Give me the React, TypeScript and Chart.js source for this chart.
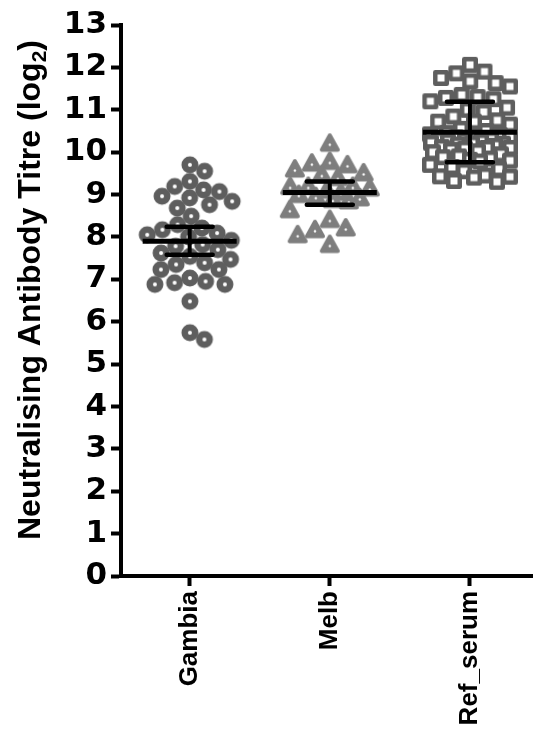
import React, { useEffect, useRef } from 'react';
import { Chart, registerables } from 'chart.js';

Chart.register(...registerables);

const categories = ['Gambia', 'Melb', 'Ref_serum'];
const yMin = 0;
const yMax = 13;

const gambiaValues = [
  9.55, 9.7, 9.31, 9.19, 9.11, 8.96, 8.84, 8.68, 8.76, 8.92, 9.07, 8.49, 8.29,
  8.17, 8.0, 8.09, 8.21, 8.05, 7.92, 7.78, 7.82, 7.7, 7.54, 7.39, 7.35, 7.47,
  7.62, 7.23, 7.23, 6.92, 6.95, 6.88, 7.03, 6.88, 6.48, 5.58, 5.74,
];
const melbValues = [
  10.21, 9.78, 9.7, 9.74, 9.51, 9.47, 9.6, 9.4, 9.19, 9.15, 9.19, 9.19, 9.1,
  9.05, 9.0, 8.95, 8.92, 8.88, 8.85, 8.64, 8.41, 8.21, 8.17, 8.05, 7.82,
];
const refSerumValues = [
  12.06, 11.86, 11.75, 11.63, 11.67, 11.9, 11.55, 11.35, 11.3, 11.28, 11.25,
  11.2, 11.05, 11.0, 10.95, 10.84, 10.75, 10.72, 10.72, 10.65, 10.55, 10.5,
  10.45, 10.42, 10.4, 10.38, 10.35, 10.35, 10.3, 10.3, 10.28, 10.25, 10.25,
  10.22, 10.2, 10.2, 10.18, 10.15, 10.12, 10.1, 10.1, 10.08, 10.05, 10.02,
  10.0, 9.95, 9.9, 9.88, 9.85, 9.82, 9.8, 9.78, 9.7, 9.65, 9.6, 9.55, 9.45,
  9.43, 9.42, 9.4, 9.32, 9.3,
];
const groupValues = [gambiaValues, melbValues, refSerumValues];
const means = [7.9, 9.05, 10.47];
const errLow = [7.58, 8.76, 9.76];
const errHigh = [8.24, 9.31, 11.19];

const DARK = '#5e5e5e';
const LIGHT = '#7e7e7e';
const FONT = '"Liberation Sans", Arial, Helvetica, sans-serif';
const TICK_FONT = '"DejaVu Sans", "Liberation Sans", Arial, sans-serif';

function makeCircle() {
  const c = document.createElement('canvas');
  c.width = 20;
  c.height = 20;
  const g = c.getContext('2d')!;
  g.beginPath();
  g.arc(10, 10, 5.25, 0, Math.PI * 2);
  g.fillStyle = '#ffffff';
  g.fill();
  g.lineWidth = 6.5;
  g.strokeStyle = DARK;
  g.stroke();
  return c;
}

function makeTriangle() {
  const c = document.createElement('canvas');
  c.width = 22;
  c.height = 22;
  const g = c.getContext('2d')!;
  g.beginPath();
  g.moveTo(11, 3);
  g.lineTo(3, 17.5);
  g.lineTo(19, 17.5);
  g.closePath();
  g.lineJoin = 'round';
  g.lineWidth = 4;
  g.fillStyle = LIGHT;
  g.strokeStyle = LIGHT;
  g.fill();
  g.stroke();
  g.beginPath();
  g.arc(11, 12.5, 1.2, 0, Math.PI * 2);
  g.fillStyle = '#ffffff';
  g.fill();
  return c;
}

function makeSquare() {
  const c = document.createElement('canvas');
  c.width = 18;
  c.height = 18;
  const g = c.getContext('2d')!;
  g.lineJoin = 'round';
  g.lineWidth = 4.5;
  g.fillStyle = '#ffffff';
  g.strokeStyle = DARK;
  g.beginPath();
  g.rect(3.25, 3.25, 11.5, 11.5);
  g.fill();
  g.stroke();
  return c;
}

// beeswarm layout in pixel space -> returns x offsets in pixels
function swarm(ys: number[], d: number, maxW: number): number[] {
  const order = ys.map((y, i) => i).sort((a, b) => ys[a] - ys[b]);
  const placed: { x: number; y: number }[] = [];
  const out = new Array(ys.length).fill(0);
  let flip = 1;
  for (const i of order) {
    const y = ys[i];
    const near = placed.filter((p) => Math.abs(p.y - y) < d);
    const cands = [0];
    for (const p of near) {
      const h = Math.sqrt(d * d - (p.y - y) * (p.y - y));
      cands.push(p.x - h - 0.01, p.x + h + 0.01);
    }
    const ok = cands.filter(
      (x) =>
        Math.abs(x) <= maxW &&
        near.every((p) => (p.x - x) ** 2 + (p.y - y) ** 2 >= d * d - 0.1)
    );
    let best: number;
    if (ok.length) {
      ok.sort((a, b) => Math.abs(a) - Math.abs(b) || (a - b) * flip);
      best = ok[0];
      flip = -flip;
    } else {
      best = 0;
      let bestD = -1;
      for (let x = -maxW; x <= maxW; x += 1) {
        let m = Infinity;
        for (const p of near) m = Math.min(m, (p.x - x) ** 2 + (p.y - y) ** 2);
        if (m > bestD) {
          bestD = m;
          best = x;
        }
      }
    }
    placed.push({ x: best, y });
    out[i] = best;
  }
  const lo = Math.min(...out);
  const hi = Math.max(...out);
  const shift = (lo + hi) / 2;
  return out.map((x) => x - shift);
}

const swarmParams = [
  { d: 16, maxW: 44 },
  { d: 18, maxW: 40 },
  { d: 16, maxW: 40 },
];

const meanPlugin = {
  id: 'meanBars',
  afterDatasetsDraw(chart: any) {
    const { ctx, scales } = chart;
    const xs = scales.x;
    const ys = scales.y;
    ctx.save();
    ctx.strokeStyle = '#000';
    categories.forEach((_, i) => {
      const cx = xs.getPixelForValue(i);
      const ym = ys.getPixelForValue(means[i]);
      const yl = ys.getPixelForValue(errLow[i]);
      const yh = ys.getPixelForValue(errHigh[i]);
      ctx.lineCap = 'butt';
      ctx.lineWidth = 4;
      ctx.beginPath();
      ctx.moveTo(cx, yh);
      ctx.lineTo(cx, yl);
      ctx.stroke();
      ctx.lineCap = 'round';
      ctx.lineWidth = 4.5;
      ctx.beginPath();
      ctx.moveTo(cx - 23, yh);
      ctx.lineTo(cx + 23, yh);
      ctx.moveTo(cx - 23, yl);
      ctx.lineTo(cx + 23, yl);
      ctx.stroke();
      ctx.lineCap = 'butt';
      ctx.lineWidth = 5;
      ctx.beginPath();
      ctx.moveTo(cx - 47, ym);
      ctx.lineTo(cx + 47, ym);
      ctx.stroke();
    });
    ctx.restore();
  },
};

const titlePlugin = {
  id: 'yTitle',
  afterDraw(chart: any) {
    const { ctx } = chart;
    const main = 'Neutralising Antibody Titre (log';
    const sub = '2';
    const end = ')';
    ctx.save();
    ctx.fillStyle = '#000';
    ctx.textBaseline = 'alphabetic';
    ctx.textAlign = 'left';
    const big = `bold 32px ${FONT}`;
    const small = `bold 21px ${FONT}`;
    ctx.font = big;
    const w1 = ctx.measureText(main).width;
    const w3 = ctx.measureText(end).width;
    ctx.font = small;
    const w2 = ctx.measureText(sub).width;
    const total = w1 + w2 + w3;
    ctx.translate(40, 290);
    ctx.rotate(-Math.PI / 2);
    let x = -total / 2;
    ctx.font = big;
    ctx.fillText(main, x, 0);
    x += w1;
    ctx.font = small;
    ctx.fillText(sub, x, 6);
    x += w2;
    ctx.font = big;
    ctx.fillText(end, x, 0);
    ctx.restore();
  },
};

export default function App() {
  const ref = useRef<HTMLCanvasElement>(null);
  useEffect(() => {
    const markers = [makeCircle(), makeTriangle(), makeSquare()];
    const chart = new Chart(ref.current!, {
      type: 'scatter',
      data: {
        datasets: groupValues.map((vals, i) => ({
          label: categories[i],
          data: vals.map((v) => ({ x: i, y: v })),
          pointStyle: markers[i] as any,
          pointRadius: 8,
          clip: false as any,
        })),
      },
      options: {
        animation: false,
        responsive: false,
        events: [],
        layout: { autoPadding: false, padding: { top: 25, left: 0, right: 0, bottom: 0 } },
        plugins: {
          legend: { display: false },
          tooltip: { enabled: false },
        },
        scales: {
          x: {
            type: 'linear',
            min: -0.49,
            max: 2.45,
            afterBuildTicks: (s: any) => {
              s.ticks = categories.map((_, i) => ({ value: i }));
            },
            afterFit: (s: any) => {
              s.height = 155;
              s.paddingLeft = 0;
              s.paddingRight = 0;
            },
            ticks: {
              autoSkip: false,
              minRotation: 90,
              maxRotation: 90,
              padding: 5,
              color: '#000',
              font: { family: FONT, size: 26, weight: 'bold' },
              callback: (v: any) => categories[v] ?? '',
            },
            grid: {
              drawOnChartArea: false,
              drawTicks: true,
              tickLength: 10,
              tickWidth: 4,
              tickColor: '#000',
            },
            border: { display: true, width: 4, color: '#000' },
          },
          y: {
            type: 'linear',
            min: yMin,
            max: yMax,
            afterFit: (s: any) => {
              s.width = 121;
            },
            ticks: {
              stepSize: 1,
              autoSkip: false,
              padding: 4,
              color: '#000',
              font: { family: TICK_FONT, size: 31, weight: 'bold' },
            },
            grid: {
              drawOnChartArea: false,
              drawTicks: true,
              tickLength: 10,
              tickWidth: 4,
              tickColor: '#000',
            },
            border: { display: true, width: 4, color: '#000' },
          },
        },
      },
      plugins: [meanPlugin, titlePlugin],
    });

    const xs: any = chart.scales.x;
    const ysc: any = chart.scales.y;
    const pxPerX = xs.getPixelForValue(1) - xs.getPixelForValue(0);
    groupValues.forEach((vals, i) => {
      const py = vals.map((v) => ysc.getPixelForValue(v));
      const offs = swarm(py, swarmParams[i].d, swarmParams[i].maxW);
      chart.data.datasets[i].data = vals.map((v, k) => ({
        x: i + offs[k] / pxPerX,
        y: v,
      })) as any;
    });
    chart.update('none');

    return () => chart.destroy();
  }, []);

  return (
    <div style={{ position: 'absolute', left: 0, top: 0, width: 533, height: 731, background: '#fff' }}>
      <canvas ref={ref} width={533} height={731} style={{ display: 'block' }} />
    </div>
  );
}
